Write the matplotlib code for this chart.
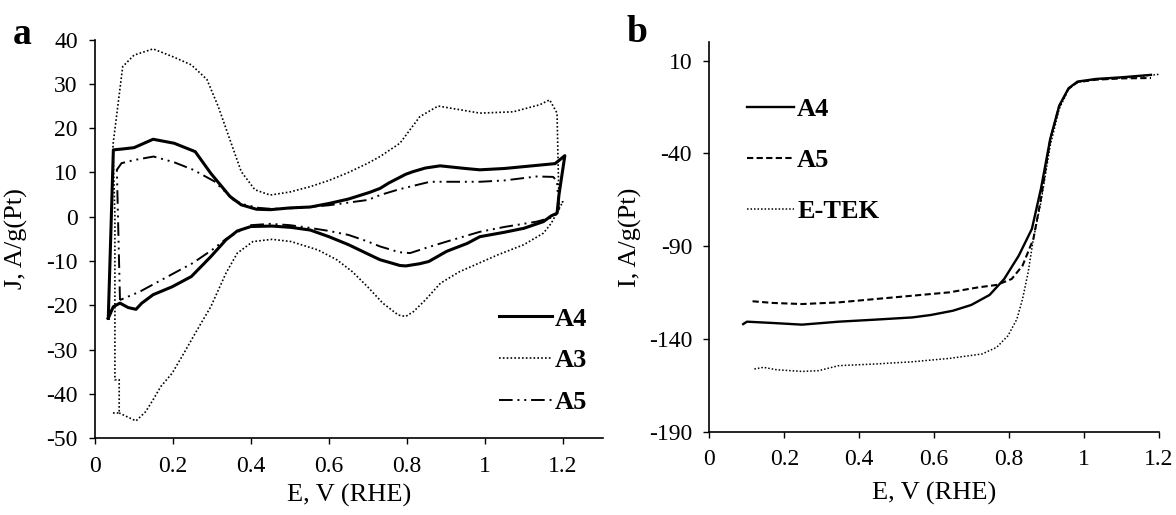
import numpy as np
import matplotlib
matplotlib.use("Agg")
import matplotlib.pyplot as plt

plt.rcParams['font.family'] = ['Liberation Serif', 'DejaVu Serif']
plt.rcParams['axes.unicode_minus'] = False

# ---- (a) cyclic voltammograms, J vs E ----
a4_e = [0.034, 0.047, 0.07, 0.10, 0.149, 0.203, 0.257, 0.297, 0.346, 0.375, 0.414, 0.45,
        0.50, 0.552, 0.60, 0.65, 0.704, 0.731, 0.753, 0.797, 0.816, 0.847, 0.885, 0.95,
        0.987, 1.05, 1.133, 1.18, 1.205, 1.19, 1.185, 1.17, 1.15, 1.10, 1.05, 0.987,
        0.955, 0.902, 0.856, 0.833, 0.797, 0.782, 0.731, 0.714, 0.65, 0.60, 0.552, 0.503,
        0.454, 0.40, 0.365, 0.336, 0.297, 0.247, 0.198, 0.149, 0.12, 0.105, 0.085,
        0.064, 0.047, 0.034]
a4_j = [-22.9, 15.1, 15.3, 15.6, 17.5, 16.6, 14.7, 9.8, 4.6, 2.7, 1.7, 1.6,
        2.0, 2.2, 3.0, 4.0, 5.5, 6.4, 7.6, 9.6, 10.2, 11.0, 11.5, 10.9,
        10.6, 10.9, 11.6, 12.0, 13.8, 5.0, 0.8, 0.2, -1.1, -2.6, -3.5, -4.5,
        -6.0, -7.8, -10.1, -10.6, -11.1, -11.0, -9.7, -9.0, -6.3, -4.5, -3.0, -2.4,
        -2.1, -2.2, -3.2, -5.2, -9.0, -13.5, -15.8, -17.6, -19.5, -20.9, -20.5,
        -19.5, -20.3, -22.9]

a3_e = [0.046, 0.062, 0.062, 0.051, 0.051, 0.046, 0.071, 0.10, 0.149, 0.198, 0.247, 0.287,
        0.316, 0.346, 0.375, 0.41, 0.449, 0.50, 0.552, 0.60, 0.65, 0.70, 0.731, 0.782,
        0.833, 0.880, 0.927, 0.987, 1.073, 1.141, 1.166, 1.185, 1.19, 1.20, 1.17, 1.15,
        1.10, 1.033, 0.984, 0.935, 0.886, 0.847, 0.817, 0.797, 0.778, 0.738, 0.699, 0.66,
        0.62, 0.572, 0.503, 0.454, 0.405, 0.365, 0.336, 0.297, 0.257, 0.228, 0.198, 0.169,
        0.149, 0.130, 0.105, 0.081, 0.062]
a3_j = [-44.3, -44.3, -36.8, -36.8, 0.0, 16.2, 33.9, 36.5, 37.9, 36.2, 34.3, 31.0,
        24.9, 17.4, 10.2, 6.1, 4.9, 5.6, 6.8, 8.2, 10.0, 12.1, 13.6, 16.6,
        22.6, 25.0, 24.3, 23.4, 23.7, 25.3, 26.4, 23.4, 3.0, 3.4, -1.5, -3.7,
        -6.3, -8.6, -10.5, -12.4, -15.0, -18.8, -21.4, -22.5, -22.2, -19.5, -15.8, -12.4,
        -9.7, -7.5, -5.6, -5.1, -5.6, -8.2, -12.7, -20.3, -26.3, -30.8, -35.3, -38.3,
        -41.3, -44.0, -46.1, -45.1, -44.3]

a5_e = [0.064, 0.056, 0.068, 0.10, 0.150, 0.203, 0.252, 0.306, 0.33, 0.355, 0.38, 0.42,
        0.45, 0.50, 0.55, 0.60, 0.65, 0.70, 0.731, 0.78, 0.859, 0.987, 1.05, 1.133,
        1.175, 1.185, 1.19, 1.17, 1.133, 1.05, 0.987, 0.902, 0.85, 0.808, 0.78, 0.731,
        0.70, 0.65, 0.60, 0.55, 0.50, 0.45, 0.40, 0.365, 0.336, 0.30, 0.25, 0.218,
        0.115, 0.064]
a5_j = [-18.8, 10.6, 12.1, 12.8, 13.6, 12.3, 10.6, 8.0, 6.0, 3.8, 2.8, 2.0,
        1.8, 1.9, 2.2, 2.6, 3.2, 3.8, 4.9, 6.2, 7.9, 7.9, 8.2, 9.1,
        9.0, 8.0, 1.0, -0.2, -1.1, -2.3, -3.4, -5.6, -7.0, -8.2, -8.0, -6.7,
        -5.6, -4.1, -3.2, -2.5, -1.9, -1.6, -1.9, -3.5, -5.0, -7.5, -10.5, -12.0,
        -16.9, -18.8]

# ---- (b) linear sweeps, I vs E ----
b_a4_e = [0.090, 0.10, 0.169, 0.247, 0.345, 0.443, 0.542, 0.591, 0.65, 0.699, 0.748, 0.787,
          0.826, 0.861, 0.885, 0.91, 0.934, 0.959, 0.983, 1.032, 1.101, 1.179]
b_a4_i = [-132.0, -130.7, -131.4, -132.3, -130.7, -129.6, -128.4, -127.1, -124.8, -121.7, -116.3, -107.7,
          -95.1, -80.7, -59.2, -32.2, -14.3, -4.9, -1.3, 0.1, 1.0, 2.3]

b_a5_e = [0.115, 0.169, 0.247, 0.345, 0.443, 0.542, 0.64, 0.718, 0.767, 0.807, 0.836, 0.865,
          0.885, 0.91, 0.934, 0.959, 0.983, 1.032, 1.101, 1.179]
b_a5_i = [-119.7, -120.6, -121.2, -120.3, -118.5, -116.7, -114.9, -112.2, -110.9, -107.7, -100.5, -86.1,
          -64.6, -32.5, -14.6, -5.2, -1.6, -0.3, 0.4, 0.6]

b_etek_e = [0.12, 0.144, 0.179, 0.247, 0.291, 0.345, 0.443, 0.542, 0.64, 0.728, 0.767, 0.797,
            0.821, 0.836, 0.851, 0.865, 0.885, 0.91, 0.934, 0.959, 0.983, 1.032, 1.13, 1.209]
b_etek_i = [-156.2, -155.3, -156.6, -157.5, -157.1, -154.4, -153.5, -152.3, -150.5, -148.1, -144.5, -138.3,
            -129.3, -118.5, -104.1, -86.1, -66.4, -35.8, -16.1, -5.3, -1.7, -0.2, 1.0, 2.8]

x_ticks = [0, 0.2, 0.4, 0.6, 0.8, 1.0, 1.2]
x_ticklabels = ['0', '0.2', '0.4', '0.6', '0.8', '1', '1.2']

fig = plt.figure(figsize=(11.76, 5.15), dpi=100)
ax_a = fig.add_axes([0.0808, 0.1491, 0.4320, 0.7740])
ax_b = fig.add_axes([0.6033, 0.1617, 0.3821, 0.7567])

tick_kw = dict(direction='out', length=4.5, width=1.0, pad=8, labelsize=17, color='black')
lab_fs = 19

def style_axes(ax):
    for s in ('top', 'right'):
        ax.spines[s].set_visible(False)
    for s in ('left', 'bottom'):
        ax.spines[s].set_linewidth(1.2)
    ax.tick_params(**tick_kw)
    ax.set_xticks(x_ticks)
    ax.set_xticklabels(x_ticklabels)
    ax.set_xlabel('E, V (RHE)', fontsize=lab_fs)

# panel a
ax_a.plot(a4_e, a4_j, '-', color='black', lw=2.2, label='A4')
ax_a.plot(a3_e, a3_j, color='black', lw=1.2, linestyle=(0, (1, 1.3)), label='A3')
ax_a.plot(a5_e, a5_j, color='black', lw=1.4, linestyle=(0, (7, 2.5, 1, 2.5, 1, 2.5)), label='A5')
ax_a.set_xlim(0, 1.303)
ax_a.set_ylim(-50, 40)
ax_a.set_yticks(np.arange(-50, 41, 10))
style_axes(ax_a)
ax_a.set_ylabel('J, A/g(Pt)', fontsize=lab_fs)
ax_a.yaxis.set_label_coords(-0.132, 0.5)
ax_a.xaxis.set_label_coords(0.5, -0.115)
ax_a.legend(loc='lower right', bbox_to_anchor=(1.0, 0.02), frameon=False,
            prop=dict(weight='bold', size=19), handlelength=2.0, handletextpad=0.1,
            labelspacing=0.7, borderaxespad=0.2)
fig.text(0.011, 0.915, 'a', fontsize=27, fontweight='bold', ha='left', va='baseline')

# panel b
ax_b.plot(b_a4_e, b_a4_i, '-', color='black', lw=1.7, label='A4')
ax_b.plot(b_a5_e, b_a5_i, color='black', lw=1.5, linestyle=(0, (3, 1.6)), label='A5')
ax_b.plot(b_etek_e, b_etek_i, color='black', lw=1.1, linestyle=(0, (1, 1.3)), label='E-TEK')
ax_b.set_xlim(0, 1.2)
ax_b.set_ylim(-190, 20)
ax_b.set_yticks(np.arange(-190, 11, 50))
style_axes(ax_b)
ax_b.set_ylabel('I, A/g(Pt)', fontsize=lab_fs)
ax_b.yaxis.set_label_coords(-0.150, 0.5)
ax_b.xaxis.set_label_coords(0.5, -0.13)
ax_b.legend(loc='upper left', bbox_to_anchor=(0.06, 0.885), frameon=False,
            prop=dict(weight='bold', size=19), handlelength=1.8, handletextpad=0.1,
            labelspacing=1.05, borderaxespad=0.0)
fig.text(0.533, 0.918, 'b', fontsize=27, fontweight='bold', ha='left', va='baseline')

fig.savefig('out.png', dpi=100, facecolor='white')
